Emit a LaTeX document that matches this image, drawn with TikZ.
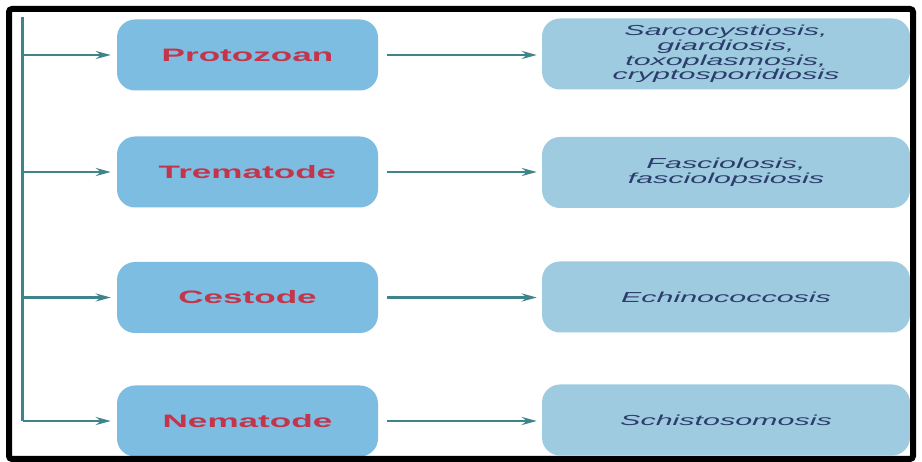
\documentclass[tikz,border=0pt]{standalone}
\usepackage{fontspec}
\usetikzlibrary{arrows.meta}
\newfontfamily\groupfont[FakeStretch=1.95]{Liberation Sans}
\newfontfamily\diseasefont[FakeStretch=2.1]{Liberation Sans}
\definecolor{teal}{RGB}{62,132,138}
\definecolor{groupfill}{RGB}{124,189,225}
\definecolor{diseasefill}{RGB}{158,203,223}
\definecolor{grouptext}{RGB}{196,52,74}
\definecolor{diseasetext}{RGB}{44,60,108}
\tikzset{
  groupbox/.style={fill=groupfill, rounded corners=18pt, minimum width=261pt,
    minimum height=71pt, inner sep=0pt, text=grouptext,
    font=\groupfont\bfseries\fontsize{18}{20}\selectfont},
  diseasebox/.style={fill=diseasefill, rounded corners=18pt, minimum width=368pt,
    minimum height=71pt, inner sep=0pt, text=diseasetext, align=center,
    font=\diseasefont\itshape\fontsize{14.5}{14.8}\selectfont},
  spine/.style={draw=teal, line width=3.5pt},
  link/.style={draw=teal, line width=2.4pt,
    -{Stealth[length=15pt,width=8pt,inset=5pt]}},
}
\begin{document}
\begin{tikzpicture}[x=1pt,y=-1pt]
\useasboundingbox (0,0) rectangle (922,462);
\fill[white] (0,0) rectangle (922,462);

% parasite groups
\node[groupbox] (g1) at (247.5,55)  {Protozoan};
\node[groupbox] (g2) at (247.5,172) {Trematode};
\node[groupbox] (g3) at (247.5,297.5) {Cestode};
\node[groupbox] (g4) at (247.5,421) {Nematode};

% diseases caused by each group
\node[diseasebox] (d1) at (726,54) {Sarcocystiosis,\\giardiosis,\\toxoplasmosis,\\cryptosporidiosis};
\node[diseasebox] (d2) at (726,172.5) {Fasciolosis,\\fasciolopsiosis};
\node[diseasebox] (d3) at (726,297) {Echinococcosis};
\node[diseasebox] (d4) at (726,420) {Schistosomosis};

% left spine feeding every group
\coordinate (top) at (22.5,17);
\coordinate (bottom) at (top |- g4.west);
\draw[spine] (top) -- (bottom);
\foreach \i in {1,...,4}{
  \draw[link, shorten >=6pt] (top |- g\i.west) -- (g\i.west);
  \draw[link, shorten <=9pt, shorten >=5pt] (g\i.east) -- (g\i.east -| d\i.west);
}

% outer frame
\draw[line width=6pt, rounded corners=3pt] (9,9) rectangle (913,459);
\end{tikzpicture}
\end{document}
